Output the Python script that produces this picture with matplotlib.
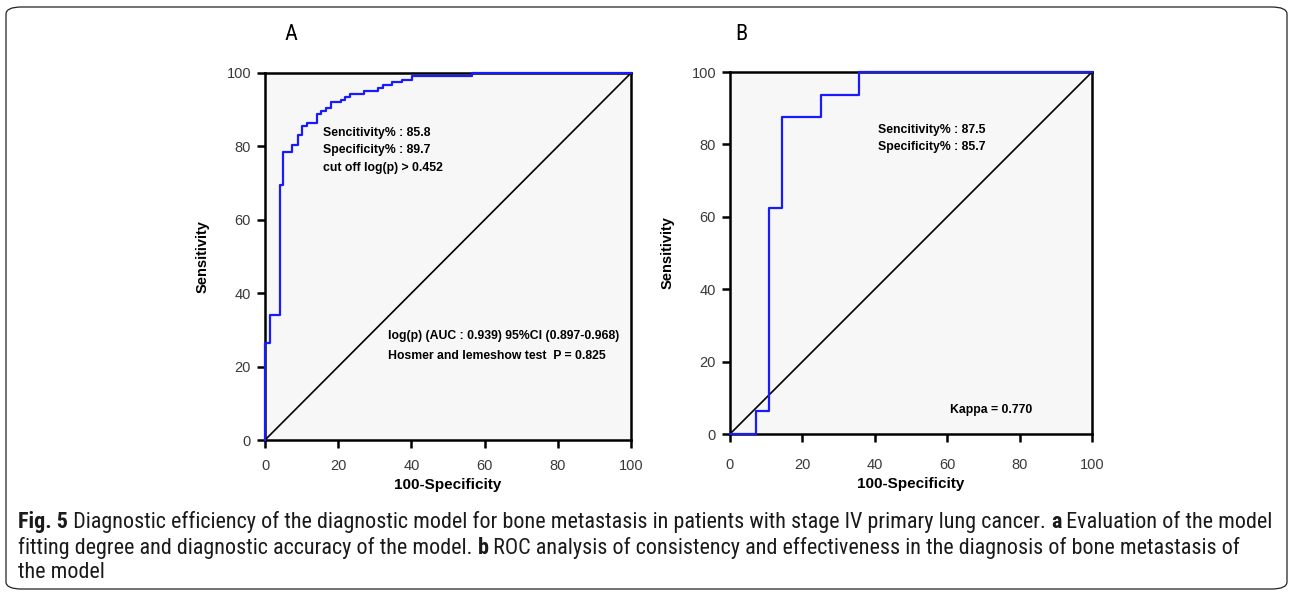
import matplotlib
matplotlib.use("Agg")
import matplotlib.pyplot as plt
from matplotlib.patches import FancyBboxPatch
from matplotlib import font_manager

# ---- data ----
fpr_a = [0, 0, 1.4, 4.0, 4.9, 7.5, 9.0, 10.0, 11.6, 14.1, 15.2, 16.6, 17.9, 20.7, 21.9,
         23.2, 27.0, 31.0, 32.3, 34.6, 37.3, 40.1, 56.5, 100]
tpr_a = [0, 26.5, 34.0, 69.5, 78.5, 80.3, 83.0, 85.5, 86.4, 88.8, 89.6, 90.5, 92.0, 92.6, 93.4,
         94.3, 95.0, 95.9, 96.6, 97.5, 98.2, 99.2, 100, 100]
fpr_b = [0, 7.1, 10.7, 14.3, 25.0, 35.7, 100]
tpr_b = [0, 6.25, 62.5, 87.5, 93.75, 100, 100]
ticks = [0, 20, 40, 60, 80, 100]

text_a_top = ["Sencitivity% : 85.8", "Specificity% : 89.7", "cut off log(p) > 0.452"]
text_a_bottom = ["log(p) (AUC : 0.939) 95%CI (0.897-0.968)", "Hosmer and lemeshow test  P = 0.825"]
text_b_top = ["Sencitivity% : 87.5", "Specificity% : 85.7"]
text_b_kappa = "Kappa = 0.770"

caption = [
    [("Fig. 5", True), (" Diagnostic efficiency of the diagnostic model for bone metastasis in patients with stage IV primary lung cancer. ", False),
     ("a", True), (" Evaluation of the model", False)],
    [("fitting degree and diagnostic accuracy of the model. ", False), ("b", True),
     (" ROC analysis of consistency and effectiveness in the diagnosis of bone metastasis of", False)],
    [("the model", False)],
]

W, H = 1293, 595
fig = plt.figure(figsize=(W / 100, H / 100), dpi=100)
fig.patch.set_facecolor("white")

SANS = "Liberation Sans"
names = {f.name for f in font_manager.fontManager.ttflist}
NARROW = "Open Sans"
for cand in ["Roboto Condensed", "Open Sans Condensed", "Liberation Sans Narrow", "Lato"]:
    if cand in names:
        NARROW = cand
        break

# outer rounded frame
frame = FancyBboxPatch((6 / W, 6 / H), (1281) / W, (582) / H,
                       boxstyle="round,pad=0,rounding_size=0.012",
                       transform=fig.transFigure, facecolor="none",
                       edgecolor="#222222", linewidth=0.9)
fig.patches.append(frame)


def make_axes(rect, tick_pad, label_pad):
    ax = fig.add_axes(rect)
    ax.set_facecolor("#f7f7f7")
    ax.set_xlim(0, 100)
    ax.set_ylim(0, 100)
    ax.set_xticks(ticks)
    ax.set_yticks(ticks)
    for s in ax.spines.values():
        s.set_linewidth(1.8)
        s.set_color("black")
    ax.tick_params(direction="out", length=6, width=1.8, labelsize=10.5,
                   labelcolor="#3a3a3a", pad=4)
    ax.tick_params(axis="x", pad=tick_pad)
    for lab in ax.get_xticklabels() + ax.get_yticklabels():
        lab.set_fontfamily(SANS)
    ax.plot([0, 100], [0, 100], color="black", lw=1.2, zorder=2)
    ax.set_xlabel("100-Specificity", fontsize=11, fontweight="bold", family=SANS, labelpad=label_pad)
    ax.set_ylabel("Sensitivity", fontsize=10.5, fontweight="bold", family=SANS, labelpad=12)
    return ax


axA = make_axes([265 / W, (H - 440) / H, 366 / W, 367 / H], 8, 3)
axA.plot(fpr_a, tpr_a, drawstyle="steps-post", color="#1a1aff", lw=1.6, zorder=3, clip_on=False)
for i, t in enumerate(text_a_top):
    axA.text(15.8, 83.6 - 4.7 * i, t, fontsize=8.8, fontweight="bold", family=SANS, va="center", ha="left")
for i, t in enumerate(text_a_bottom):
    axA.text(33.6, 28.3 - 5.4 * i, t, fontsize=8.8, fontweight="bold", family=SANS, va="center", ha="left")

axB = make_axes([730 / W, (H - 434) / H, 362 / W, 362 / H], 11, 4)
axB.plot(fpr_b, tpr_b, drawstyle="steps-post", color="#1a1aff", lw=1.6, zorder=3, clip_on=False)
for i, t in enumerate(text_b_top):
    axB.text(40.9, 84.0 - 4.7 * i, t, fontsize=8.8, fontweight="bold", family=SANS, va="center", ha="left")
axB.text(60.8, 6.6, text_b_kappa, fontsize=8.8, fontweight="bold", family=SANS, va="center", ha="left")

fig.text(291 / W, 1 - 35 / H, "A", fontsize=16, family=NARROW, ha="center", va="center")
fig.text(741 / W, 1 - 35 / H, "B", fontsize=16, family=NARROW, ha="center", va="center")

# caption
renderer = fig.canvas.get_renderer()
CAP_FONT = NARROW
cap_size = 12.0
x_start, x_end_target = 18, 1273


def line_width(segs, size):
    total = 0
    objs = []
    for s, b in segs:
        t = fig.text(0, 0, s, fontsize=size, family=CAP_FONT, fontweight="bold" if b else "normal")
        total += t.get_window_extent(renderer).width
        objs.append(t)
    for t in objs:
        t.remove()
    return total

w0 = line_width(caption[0], cap_size)
cap_size = cap_size * (x_end_target - x_start) / w0

ys = [522, 548, 573]
for segs, y in zip(caption, ys):
    x = x_start
    for s, b in segs:
        t = fig.text(x / W, 1 - y / H, s, fontsize=cap_size, family=CAP_FONT,
                     fontweight="bold" if b else "normal", va="center", ha="left", color="#1a1a1a")
        x += t.get_window_extent(renderer).width

fig.savefig("out.png", dpi=100)
